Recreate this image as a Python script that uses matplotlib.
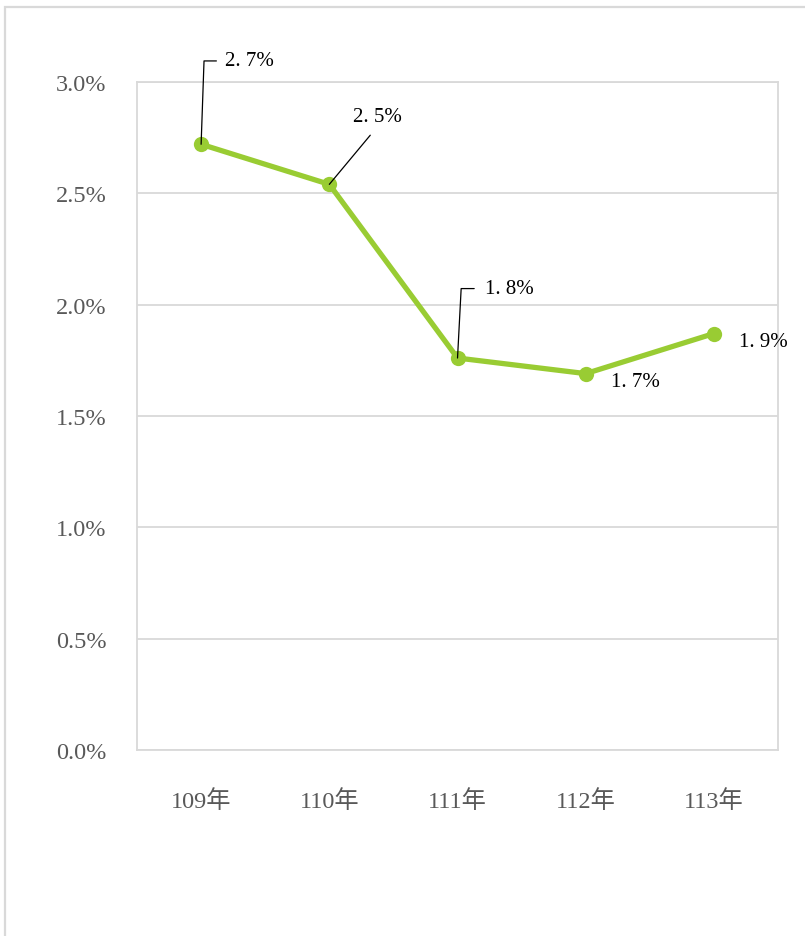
import numpy as np
import matplotlib.pyplot as plt
from matplotlib.patches import Rectangle

# data
years = ['109年', '110年', '111年', '112年', '113年']
rates = [2.72, 2.54, 1.76, 1.69, 1.87]
rate_labels = ['2.7%', '2.5%', '1.8%', '1.7%', '1.9%']
y_ticks = [0.0, 0.5, 1.0, 1.5, 2.0, 2.5, 3.0]

serif = ['Liberation Serif', 'Noto Sans CJK TC']

fig = plt.figure(figsize=(8.05, 9.37), dpi=100)
ax = fig.add_axes([0.1702, 0.1986, 0.7963, 0.7129])

# outer frame (only left/top visible)
fig.add_artist(Rectangle((0.0062, -0.2), 1.5, 0.2 + 0.9915, transform=fig.transFigure,
                         fill=False, edgecolor='#d9d9d9', linewidth=1.6))

x = np.arange(len(years))
ax.plot(x, rates, color='#99cc33', linewidth=3.8, marker='o', markersize=11,
        markeredgewidth=0, zorder=3, solid_capstyle='round')

ax.set_xlim(-0.5, len(years) - 0.5)
ax.set_ylim(0, 3.0)
ax.set_yticks(y_ticks)
ax.set_yticklabels([f'{t:.1f}%' for t in y_ticks], family=serif, fontsize=17.5, color='#595959')
ax.set_xticks(x)
ax.set_xticklabels(years, family=serif, fontsize=17.5, color='#595959')
ax.tick_params(axis='y', length=0, pad=22)
ax.tick_params(axis='x', length=0, pad=28)

ax.grid(axis='y', color='#d9d9d9', linewidth=1.3)
ax.set_axisbelow(True)
for s in ax.spines.values():
    s.set_color('#d9d9d9')
    s.set_linewidth(1.3)

# data labels
def disp(lbl):
    return lbl.replace('.', '. ')

lbl_kw = dict(family=serif, fontsize=15, color='black')

# 109: L-shaped leader
ax.annotate(disp(rate_labels[0]), xy=(x[0], rates[0]), xytext=(17, 60), textcoords='offset points',
            ha='left', va='center', **lbl_kw,
            arrowprops=dict(arrowstyle='-', color='black', lw=0.9, shrinkA=4, shrinkB=0,
                            relpos=(0, 0.5), connectionstyle='angle,angleA=0,angleB=88,rad=0'))
# 110: straight leader
ax.annotate(disp(rate_labels[1]), xy=(x[1], rates[1]), xytext=(35, 42), textcoords='offset points',
            ha='center', va='bottom', **lbl_kw,
            arrowprops=dict(arrowstyle='-', color='black', lw=0.9, shrinkA=6, shrinkB=0,
                            relpos=(0.5, 0)))
# 111: L-shaped leader
ax.annotate(disp(rate_labels[2]), xy=(x[2], rates[2]), xytext=(20, 50), textcoords='offset points',
            ha='left', va='center', **lbl_kw,
            arrowprops=dict(arrowstyle='-', color='black', lw=0.9, shrinkA=6, shrinkB=0,
                            relpos=(0, 0.5), connectionstyle='angle,angleA=0,angleB=87,rad=0'))
# 112, 113: plain labels
ax.annotate(disp(rate_labels[3]), xy=(x[3], rates[3]), xytext=(18, -6), textcoords='offset points',
            ha='left', va='center', **lbl_kw)
ax.annotate(disp(rate_labels[4]), xy=(x[4], rates[4]), xytext=(18, -6), textcoords='offset points',
            ha='left', va='center', **lbl_kw)

fig.savefig('out.png', dpi=100)
